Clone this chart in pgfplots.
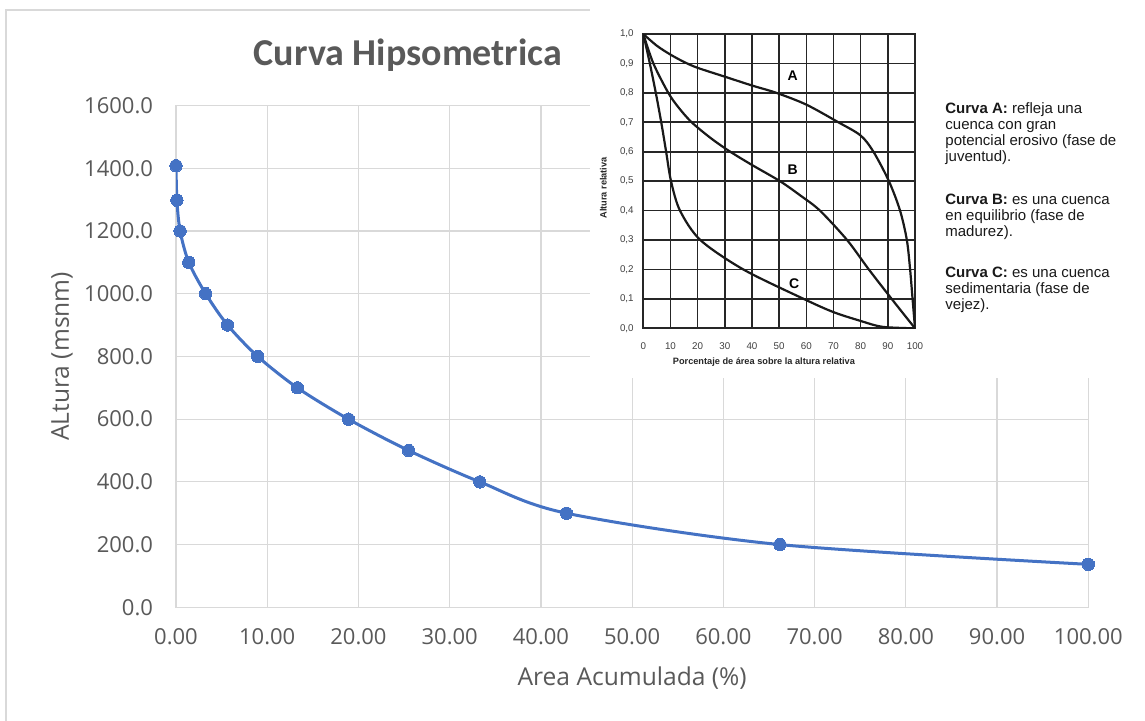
\documentclass[border=0pt]{standalone}
\usepackage{fontspec}
\setmainfont{Open Sans}
\newfontfamily\carlito{Carlito}
\newfontfamily\lib{Liberation Sans}
\usepackage{pgfplots}
\pgfplotsset{compat=1.18}
\definecolor{xlblue}{HTML}{4472C4}
\definecolor{xlgrid}{HTML}{D9D9D9}
\definecolor{xltext}{HTML}{595959}

\begin{document}
\begin{tikzpicture}[x=1pt,y=1pt]
\useasboundingbox (0,0) rectangle (572.5,360);
\clip (0,0) rectangle (572.5,360);
\fill[white] (0,0) rectangle (572.5,360);
\draw[xlgrid, line width=0.6pt] (3,-5) -- (3,355) -- (580,355);
\node[font=\carlito\bfseries\fontsize{19}{22}\selectfont, text=xltext] at (204,332.5) {Curva Hipsometrica};

\begin{axis}[
  at={(88pt,56.35pt)}, anchor=south west,
  scale only axis, width=456.15pt, height=250.9pt,
  xmin=0, xmax=100, ymin=0, ymax=1600,
  xtick={0,10,...,100}, ytick={0,200,...,1600},
  grid=major, major grid style={xlgrid, line width=0.6pt},
  axis line style={xlgrid, line width=0.6pt},
  major tick length=0pt,
  tick label style={font=\fontsize{11}{12}\selectfont, text=xltext},
  /pgf/number format/assume math mode=true,
  x tick label style={/pgf/number format/.cd, fixed, fixed zerofill, precision=2, 1000 sep={}, /tikz/.cd, yshift=-7.3pt},
  y tick label style={/pgf/number format/.cd, fixed, fixed zerofill, precision=1, 1000 sep={}, /tikz/.cd, xshift=-8pt},
  xlabel={Area Acumulada (\%)}, ylabel={ALtura (msnm)},
  label style={font=\fontsize{12.3}{14}\selectfont, text=xltext},
  xlabel style={at={(axis description cs:0.5,-0.1407)}, anchor=center},
  ylabel style={at={(axis description cs:-0.125,0.5)}, anchor=center},
]
\addplot[xlblue, line width=1.5pt, smooth, mark=*, mark size=3.1pt,
  mark options={fill=xlblue, draw=xlblue, line width=0pt}] coordinates {
  (0,1408) (0.1,1298) (0.45,1200) (1.4,1100) (3.25,1000) (5.65,900)
  (8.95,800) (13.3,700) (18.9,600) (25.5,500) (33.3,400) (42.8,300)
  (66.2,200) (100,137)
};
\end{axis}

\fill[white] (295,171) rectangle (580,365);

\begin{axis}[
  at={(321.65pt,195.85pt)}, anchor=south west,
  scale only axis, width=135.85pt, height=147.15pt,
  xmin=0, xmax=100, ymin=0, ymax=1,
  xtick={0,10,...,100}, ytick={0,0.1,0.2,0.3,0.4,0.5,0.6,0.7,0.8,0.9,1},
  grid=major, major grid style={black!85, line width=0.8pt},
  axis line style={black!85, line width=0.9pt},
  major tick length=0pt,
  tick label style={font=\lib\fontsize{4.9}{5}\selectfont, text=black!75},
  /pgf/number format/assume math mode=true,
  y tick label style={/pgf/number format/.cd, fixed, fixed zerofill, precision=1, use comma, /tikz/.cd, xshift=-1.3pt},
  x tick label style={yshift=-3.5pt},
  xlabel={Porcentaje de área sobre la altura relativa}, ylabel={Altura relativa},
  label style={font=\lib\bfseries\fontsize{4.6}{5}\selectfont, text=black!85},
  xlabel style={at={(axis description cs:0.444,-0.1145)}, anchor=center},
  ylabel style={at={(axis description cs:-0.147,0.477)}, anchor=center},
]
\addplot[black!90, line width=1.1pt, smooth] coordinates {
  (0,1) (5,0.96) (10,0.93) (15,0.905) (20,0.885) (30,0.855) (40,0.825)
  (49,0.8) (60,0.76) (71.8,0.7) (80,0.655) (84.7,0.6) (90.4,0.5)
  (94.5,0.4) (97,0.3) (98.2,0.2) (99.1,0.1) (100,0)
};
\addplot[black!90, line width=1.1pt, smooth] coordinates {
  (0,1) (3.7,0.9) (9.2,0.8) (13,0.75) (17.8,0.7) (25,0.645) (32,0.6)
  (40,0.555) (50.3,0.5) (58,0.45) (65,0.4) (75,0.3) (83,0.2) (91.4,0.1) (100,0)
};
\addplot[black!90, line width=1.1pt, smooth] coordinates {
  (0,1) (2.4,0.9) (4.6,0.8) (6.6,0.7) (8.4,0.6) (10.2,0.5) (13.5,0.4)
  (21,0.3) (36.8,0.2) (59,0.1) (70,0.055) (80,0.025) (88,0.005) (100,0)
};
\node[font=\lib\bfseries\fontsize{7}{8}\selectfont] at (axis cs:55,0.86) {A};
\node[font=\lib\bfseries\fontsize{7}{8}\selectfont] at (axis cs:55,0.54) {B};
\node[font=\lib\bfseries\fontsize{7}{8}\selectfont] at (axis cs:55.5,0.15) {C};
\end{axis}

\node[anchor=north west, inner sep=0, align=left, font=\lib\fontsize{7.5}{8}\selectfont, text=black!90]
  at (472.5,308.75) {\textbf{Curva A:} refleja una\\cuenca con gran\\potencial erosivo (fase de\\juventud).};
\node[anchor=north west, inner sep=0, align=left, font=\lib\fontsize{7.5}{8}\selectfont, text=black!90]
  at (472.5,263.25) {\textbf{Curva B:} es una cuenca\\en equilibrio (fase de\\madurez).};
\node[anchor=north west, inner sep=0, align=left, font=\lib\fontsize{7.5}{8}\selectfont, text=black!90]
  at (472.5,226.75) {\textbf{Curva C:} es una cuenca\\sedimentaria (fase de\\vejez).};
\end{tikzpicture}
\end{document}
